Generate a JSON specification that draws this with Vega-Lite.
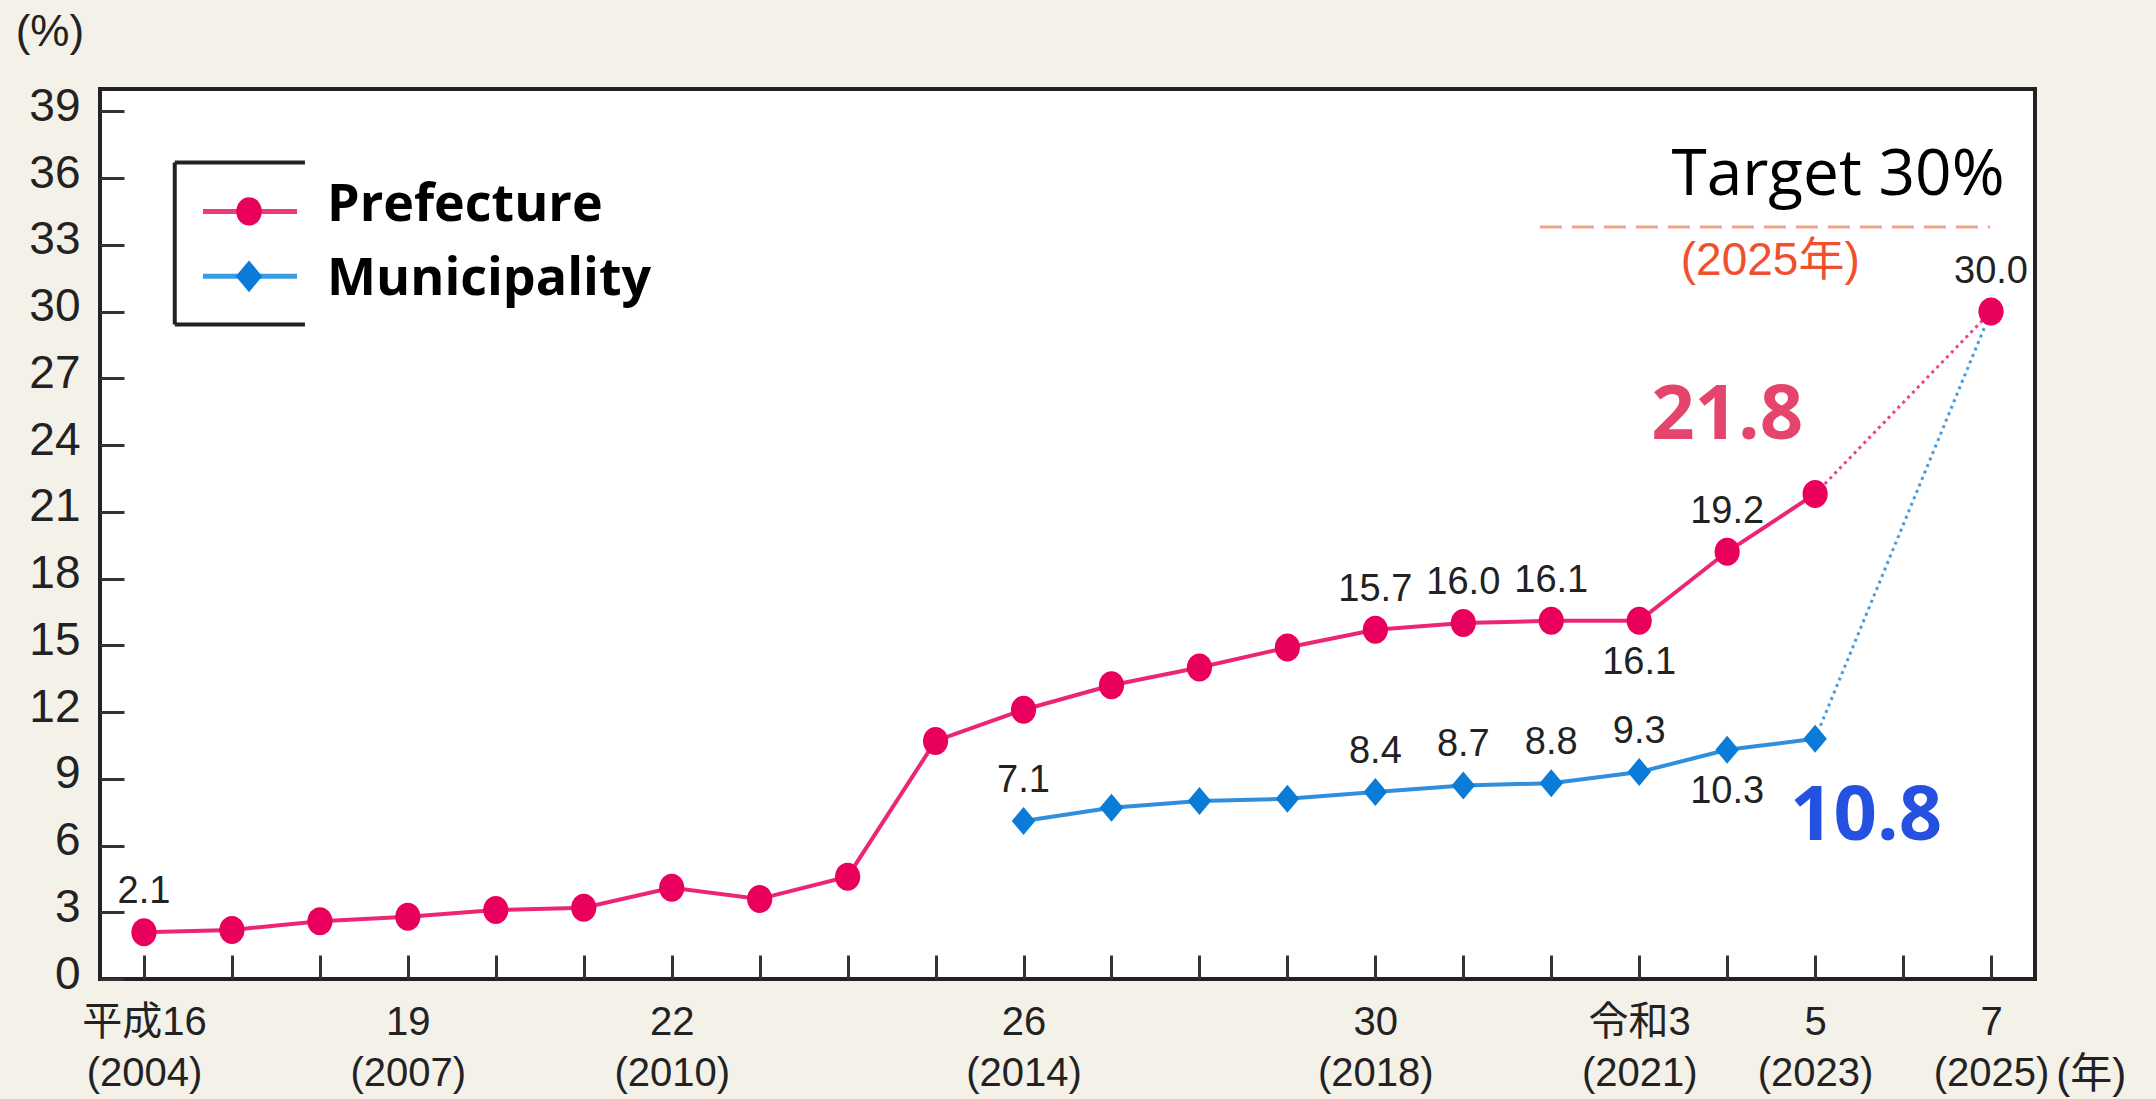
{
  "$schema": "https://vega.github.io/schema/vega-lite/v6.json",
  "autosize": {"type": "none"},
  "width": 1935,
  "height": 890,
  "padding": {"left": 100, "top": 89, "right": 121, "bottom": 120},
  "background": "#F4F1E9",
  "config": {
    "view": {"fill": "white", "stroke": "#222222", "strokeWidth": 4},
    "font": "Liberation Sans, Noto Sans CJK JP, sans-serif",
    "legend": {
      "orient": "none",
      "legendX": 122,
      "legendY": 88,
      "padding": 0,
      "labelFont": "Open Sans",
      "labelFontSize": 52,
      "labelFontWeight": "bold",
      "labelColor": "#000000",
      "labelLimit": 800,
      "symbolSize": 3091,
      "symbolOpacity": 0,
      "symbolStrokeWidth": 0,
      "labelOffset": 49,
      "rowPadding": 20
    }
  },
  "datasets": {
    "rates": [
      {"series": "Prefecture", "year": 2004, "value": 2.1},
      {"series": "Prefecture", "year": 2005, "value": 2.2},
      {"series": "Prefecture", "year": 2006, "value": 2.6},
      {"series": "Prefecture", "year": 2007, "value": 2.8},
      {"series": "Prefecture", "year": 2008, "value": 3.1},
      {"series": "Prefecture", "year": 2009, "value": 3.2},
      {"series": "Prefecture", "year": 2010, "value": 4.1},
      {"series": "Prefecture", "year": 2011, "value": 3.6},
      {"series": "Prefecture", "year": 2012, "value": 4.6},
      {"series": "Prefecture", "year": 2013, "value": 10.7},
      {"series": "Prefecture", "year": 2014, "value": 12.1},
      {"series": "Prefecture", "year": 2015, "value": 13.2},
      {"series": "Prefecture", "year": 2016, "value": 14.0},
      {"series": "Prefecture", "year": 2017, "value": 14.9},
      {"series": "Prefecture", "year": 2018, "value": 15.7},
      {"series": "Prefecture", "year": 2019, "value": 16.0},
      {"series": "Prefecture", "year": 2020, "value": 16.1},
      {"series": "Prefecture", "year": 2021, "value": 16.1},
      {"series": "Prefecture", "year": 2022, "value": 19.2},
      {"series": "Prefecture", "year": 2023, "value": 21.8},
      {"series": "Prefecture", "year": 2025, "value": 30.0},
      {"series": "Municipality", "year": 2014, "value": 7.1},
      {"series": "Municipality", "year": 2015, "value": 7.7},
      {"series": "Municipality", "year": 2016, "value": 8.0},
      {"series": "Municipality", "year": 2017, "value": 8.1},
      {"series": "Municipality", "year": 2018, "value": 8.4},
      {"series": "Municipality", "year": 2019, "value": 8.7},
      {"series": "Municipality", "year": 2020, "value": 8.8},
      {"series": "Municipality", "year": 2021, "value": 9.3},
      {"series": "Municipality", "year": 2022, "value": 10.3},
      {"series": "Municipality", "year": 2023, "value": 10.8},
      {"series": "Municipality", "year": 2025, "value": 30.0}
    ]
  },
  "layer": [
    {
      "data": {"name": "rates"},
      "transform": [{"filter": "datum.year >= 2023"}],
      "mark": {"type": "line", "strokeWidth": 3, "strokeDash": [3, 4], "opacity": 0.75},
      "encoding": {
        "x": {
          "field": "year",
          "type": "quantitative",
          "scale": {"domain": [2003.5, 2025.5], "nice": false, "zero": false},
          "axis": {
            "title": null,
            "grid": false,
            "domain": false,
            "values": [2004, 2005, 2006, 2007, 2008, 2009, 2010, 2011, 2012, 2013, 2014, 2015, 2016, 2017, 2018, 2019, 2020, 2021, 2022, 2023, 2024, 2025],
            "tickSize": -24,
            "tickWidth": 3,
            "tickColor": "#333333",
            "labelFontSize": 40,
            "labelColor": "#222222",
            "labelPadding": 47,
            "labelLineHeight": 51,
            "labelOverlap": false,
            "labelBound": false,
            "labelFlush": false,
            "labelExpr": "datum.value == 2004 ? ['平成16', '(2004)'] : datum.value == 2007 ? ['19', '(2007)'] : datum.value == 2010 ? ['22', '(2010)'] : datum.value == 2014 ? ['26', '(2014)'] : datum.value == 2018 ? ['30', '(2018)'] : datum.value == 2021 ? ['令和3', '(2021)'] : datum.value == 2023 ? ['5', '(2023)'] : datum.value == 2025 ? ['7', '(2025)'] : ''"
          }
        },
        "y": {
          "field": "value",
          "type": "quantitative",
          "scale": {"domain": [0, 40], "nice": false},
          "axis": {
            "title": null,
            "grid": false,
            "domain": false,
            "values": [0, 3, 6, 9, 12, 15, 18, 21, 24, 27, 30, 33, 36, 39],
            "tickSize": -24,
            "tickWidth": 3,
            "tickColor": "#333333",
            "labelFontSize": 46,
            "labelColor": "#222222",
            "labelPadding": 44,
            "labelOffset": -5,
            "labelOverlap": false,
            "labelBound": false,
            "labelFlush": false
          }
        },
        "color": {
          "field": "series",
          "type": "nominal",
          "scale": {"domain": ["Prefecture", "Municipality"], "range": ["#E8005C", "#0A7BD6"]},
          "legend": {"title": null}
        },
        "detail": {"field": "series"}
      }
    },
    {
      "data": {"name": "rates"},
      "transform": [{"filter": "datum.year <= 2023"}],
      "mark": {"type": "line", "strokeWidth": 4, "opacity": 0.85},
      "encoding": {
        "x": {"field": "year", "type": "quantitative"},
        "y": {"field": "value", "type": "quantitative"},
        "color": {"field": "series", "type": "nominal"},
        "detail": {"field": "series"}
      }
    },
    {
      "data": {"name": "rates"},
      "transform": [{"filter": "datum.series === 'Municipality'"}],
      "mark": {"type": "point", "shape": "M0,-1L0.84,0L0,1L-0.84,0Z", "filled": true, "size": 784, "opacity": 1},
      "encoding": {
        "x": {"field": "year", "type": "quantitative"},
        "y": {"field": "value", "type": "quantitative"},
        "color": {"field": "series", "type": "nominal"}
      }
    },
    {
      "data": {"name": "rates"},
      "transform": [{"filter": "datum.series === 'Prefecture'"}],
      "mark": {"type": "point", "shape": "M-0.9,0A0.9,1 0 1,0 0.9,0A0.9,1 0 1,0 -0.9,0Z", "filled": true, "size": 784, "opacity": 1},
      "encoding": {
        "x": {"field": "year", "type": "quantitative"},
        "y": {"field": "value", "type": "quantitative"},
        "color": {"field": "series", "type": "nominal"}
      }
    },
    {
      "data": {"name": "rates"},
      "transform": [{"filter": "(datum.series === 'Prefecture' && indexof([2004, 2018, 2019, 2020, 2022, 2025], datum.year) >= 0) || (datum.series === 'Municipality' && indexof([2014, 2018, 2019, 2020, 2021], datum.year) >= 0)"}],
      "mark": {"type": "text", "fontSize": 38, "color": "#222222", "dy": -40, "baseline": "middle"},
      "encoding": {
        "x": {"field": "year", "type": "quantitative"},
        "y": {"field": "value", "type": "quantitative"},
        "text": {"field": "value", "type": "quantitative", "format": ".1f"}
      }
    },
    {
      "data": {"name": "rates"},
      "transform": [{"filter": "(datum.series === 'Prefecture' && datum.year === 2021) || (datum.series === 'Municipality' && datum.year === 2022)"}],
      "mark": {"type": "text", "fontSize": 38, "color": "#222222", "dy": 42, "baseline": "middle"},
      "encoding": {
        "x": {"field": "year", "type": "quantitative"},
        "y": {"field": "value", "type": "quantitative"},
        "text": {"field": "value", "type": "quantitative", "format": ".1f"}
      }
    },
    {
      "data": {"values": [{"a": 1}]},
      "mark": {"type": "rule", "color": "#EE3A7A", "strokeWidth": 5},
      "encoding": {
        "x": {"datum": 2004.671, "type": "quantitative"},
        "x2": {"datum": 2005.74},
        "y": {"datum": 34.5, "type": "quantitative"}
      }
    },
    {
      "data": {"values": [{"a": 1}]},
      "mark": {"type": "rule", "color": "#3A9BE0", "strokeWidth": 5},
      "encoding": {
        "x": {"datum": 2004.671, "type": "quantitative"},
        "x2": {"datum": 2005.74},
        "y": {"datum": 31.58, "type": "quantitative"}
      }
    },
    {
      "data": {"values": [{"a": 1}]},
      "mark": {"type": "point", "shape": "M-0.9,0A0.9,1 0 1,0 0.9,0A0.9,1 0 1,0 -0.9,0Z", "filled": true, "size": 800, "opacity": 1, "color": "#E8005C"},
      "encoding": {
        "x": {"datum": 2005.194, "type": "quantitative"},
        "y": {"datum": 34.5, "type": "quantitative"}
      }
    },
    {
      "data": {"values": [{"a": 1}]},
      "mark": {"type": "point", "shape": "M0,-1L0.84,0L0,1L-0.84,0Z", "filled": true, "size": 1000, "opacity": 1, "color": "#0A7BD6"},
      "encoding": {
        "x": {"datum": 2005.194, "type": "quantitative"},
        "y": {"datum": 31.58, "type": "quantitative"}
      }
    },
    {
      "data": {"values": [{"a": 1}]},
      "mark": {"type": "rule", "color": "#F2A38F", "strokeWidth": 3, "strokeDash": [22, 10]},
      "encoding": {
        "x": {"datum": 2019.87, "type": "quantitative"},
        "x2": {"datum": 2024.99},
        "y": {"datum": 33.8, "type": "quantitative"}
      }
    },
    {
      "data": {"values": [{"a": 1}]},
      "mark": {"type": "rule", "color": "#222222", "strokeWidth": 4},
      "encoding": {
        "x": {"datum": 2004.35, "type": "quantitative"},
        "x2": {"datum": 2005.83},
        "y": {"datum": 36.7, "type": "quantitative"}
      }
    },
    {
      "data": {"values": [{"a": 1}]},
      "mark": {"type": "rule", "color": "#222222", "strokeWidth": 4},
      "encoding": {
        "x": {"datum": 2004.35, "type": "quantitative"},
        "x2": {"datum": 2005.83},
        "y": {"datum": 29.42, "type": "quantitative"}
      }
    },
    {
      "data": {"values": [{"a": 1}]},
      "mark": {"type": "rule", "color": "#222222", "strokeWidth": 4},
      "encoding": {
        "x": {"datum": 2004.35, "type": "quantitative"},
        "y": {"datum": 29.42, "type": "quantitative"},
        "y2": {"datum": 36.7}
      }
    },
    {
      "data": {"values": [{"a": 1}]},
      "mark": {"type": "text", "text": "Target 30%", "font": "Open Sans", "fontSize": 64, "color": "#000000", "baseline": "middle", "align": "center"},
      "encoding": {
        "x": {"datum": 2023.26, "type": "quantitative"},
        "y": {"datum": 36.07, "type": "quantitative"}
      }
    },
    {
      "data": {"values": [{"a": 1}]},
      "mark": {"type": "text", "text": "(2025年)", "fontSize": 46, "color": "#F0502E", "baseline": "middle", "align": "center"},
      "encoding": {
        "x": {"datum": 2022.49, "type": "quantitative"},
        "y": {"datum": 32.25, "type": "quantitative"}
      }
    },
    {
      "data": {"values": [{"a": 1}]},
      "mark": {"type": "text", "text": "21.8", "font": "Open Sans", "fontWeight": "bold", "fontSize": 76, "color": "#E5446D", "baseline": "middle", "align": "center"},
      "encoding": {
        "x": {"datum": 2022.0, "type": "quantitative"},
        "y": {"datum": 25.3, "type": "quantitative"}
      }
    },
    {
      "data": {"values": [{"a": 1}]},
      "mark": {"type": "text", "text": "10.8", "font": "Open Sans", "fontWeight": "bold", "fontSize": 76, "color": "#2451E0", "baseline": "middle", "align": "center"},
      "encoding": {
        "x": {"datum": 2023.58, "type": "quantitative"},
        "y": {"datum": 7.3, "type": "quantitative"}
      }
    },
    {
      "data": {"values": [{"a": 1}]},
      "mark": {"type": "text", "text": "(%)", "fontSize": 44, "color": "#222222", "baseline": "middle", "align": "center"},
      "encoding": {
        "x": {"datum": 2002.93, "type": "quantitative"},
        "y": {"datum": 42.5, "type": "quantitative"}
      }
    },
    {
      "data": {"values": [{"a": 1}]},
      "mark": {"type": "text", "text": "(年)", "fontSize": 42, "color": "#222222", "baseline": "middle", "align": "center"},
      "encoding": {
        "x": {"datum": 2026.14, "type": "quantitative"},
        "y": {"datum": -4.3, "type": "quantitative"}
      }
    }
  ]
}
